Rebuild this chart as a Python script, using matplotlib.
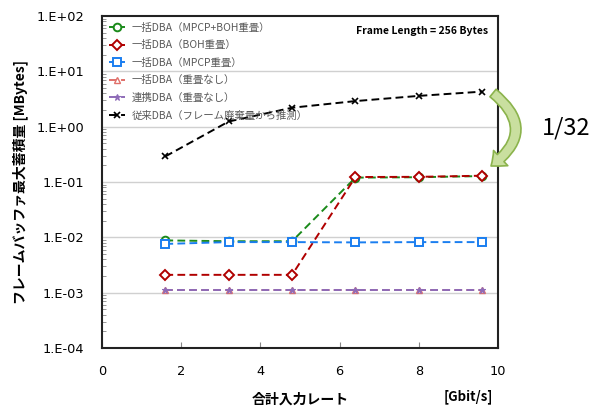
import matplotlib.pyplot as plt
from matplotlib.patches import FancyArrowPatch
from matplotlib.ticker import LogLocator, FixedLocator

plt.rcParams['font.family'] = ['Noto Sans CJK JP', 'DejaVu Sans']

# data
rate = [1.6, 3.2, 4.8, 6.4, 8.0, 9.6]
batch_mpcp_boh = [0.0088, 0.0085, 0.0085, 0.12, 0.122, 0.128]
batch_boh = [0.0021, 0.0021, 0.0021, 0.123, 0.124, 0.13]
batch_mpcp = [0.0076, 0.0082, 0.0082, 0.0081, 0.0082, 0.0082]
batch_none = [0.0011, 0.0011, 0.0011, 0.0011, 0.0011, 0.0011]
coop_none = [0.0011, 0.0011, 0.0011, 0.0011, 0.0011, 0.0011]
conv_dba = [0.29, 1.24, 2.2, 2.9, 3.6, 4.3]

labels = ['一括DBA（MPCP+BOH重畳）', '一括DBA（BOH重畳）', '一括DBA（MPCP重畳）',
          '一括DBA（重畳なし）', '連携DBA（重畳なし）', '従来DBA（フレーム廃棄量から推測）']
yticks = [1e-4, 1e-3, 1e-2, 1e-1, 1e0, 1e1, 1e2]
ytick_labels = ['1.E-04', '1.E-03', '1.E-02', '1.E-01', '1.E+00', '1.E+01', '1.E+02']

fig = plt.figure(figsize=(5.96, 4.12), dpi=100)
ax = fig.add_axes([102/596, 1 - 348/412, 396/596, 332/412])

ax.set_yscale('log')
ax.set_ylim(1e-4, 1e2)
ax.set_xlim(0, 10)

for y in yticks[1:-1]:
    ax.axhline(y, color='#d0d0d0', lw=1, zorder=0)

kw = dict(ls='--', lw=1.4, dashes=(4, 2.2), markersize=5.5, markerfacecolor='white',
          markeredgewidth=1.4)
ax.plot(rate, batch_none, color='#e0706a', marker='^', label=labels[3],
        **{**kw, 'markersize': 4.5, 'markeredgewidth': 1.0})
ax.plot(rate, coop_none, color='#8e6bb8', marker='*', label=labels[4],
        **{**kw, 'markerfacecolor': '#8e6bb8', 'markersize': 5, 'markeredgewidth': 0.8})
ax.plot(rate, conv_dba, color='black', marker='x', label=labels[5],
        **{**kw, 'markersize': 5, 'markeredgewidth': 1.2})
ax.plot(rate, batch_mpcp_boh, color='#1a8a1a', marker='o', label=labels[0], **kw)
ax.plot(rate, batch_boh, color='#b00000', marker='D', label=labels[1],
        **{**kw, 'markersize': 5})
ax.plot(rate, batch_mpcp, color='#1a7ef0', marker='s', label=labels[2], **kw)

handles, labs = ax.get_legend_handles_labels()
order = [3, 4, 5, 0, 1, 2]
leg = ax.legend([handles[i] for i in order], [labs[i] for i in order],
                loc='upper left', frameon=False, fontsize=7.5, handlelength=1.6,
                handletextpad=0.6, labelspacing=0.72, borderaxespad=0.25,
                bbox_to_anchor=(0.0, 1.0))
for t in leg.get_texts():
    t.set_color('#595959')

ax.text(0.975, 0.955, 'Frame Length = 256 Bytes', transform=ax.transAxes,
        ha='right', va='center', fontsize=7.5, fontweight='bold')

ax.yaxis.set_major_locator(FixedLocator(yticks))
ax.set_yticklabels(ytick_labels)
ax.yaxis.set_minor_locator(LogLocator(base=10, subs=range(2, 10), numticks=20))
ax.set_xticks([0, 2, 4, 6, 8, 10])
ax.tick_params(axis='both', which='both', direction='in', labelsize=9.5, color='#888888')
ax.tick_params(axis='x', length=4, pad=12)
ax.tick_params(axis='y', which='major', length=0, pad=13)
ax.tick_params(axis='y', which='minor', length=3)
ax.tick_params(axis='y', which='minor', labelleft=False)
for t in ax.get_xticklabels() + ax.get_yticklabels():
    t.set_fontfamily('DejaVu Sans')
    t.set_fontsize(9.3)
for s in ax.spines.values():
    s.set_linewidth(1.5)
    s.set_color('#222222')

ax.set_ylabel('フレームバッファ最大蓄積量 [MBytes]', fontsize=10, fontweight='bold', labelpad=6)
fig.text(300/596, 1 - 400/412, '合計入力レート', ha='center', va='center',
         fontsize=10, fontweight='bold')
fig.text(468/596, 1 - 397/412, '[Gbit/s]', ha='center', va='center',
         fontsize=9.5, fontweight='bold')

arrow = FancyArrowPatch((493/596, 1 - 93/412), (491/596, 1 - 166/412),
                        transform=fig.transFigure, connectionstyle='arc3,rad=-0.65',
                        arrowstyle='simple,head_width=1.5,head_length=0.9,tail_width=0.7',
                        mutation_scale=10, facecolor='#c9df9f', edgecolor='#8bb34c',
                        lw=1.2, clip_on=False, shrinkA=0, shrinkB=0)
fig.patches.append(arrow)
fig.text(566/596, 1 - 128/412, '1/32', ha='center', va='center', fontsize=17)

fig.savefig('out.png', dpi=100)
